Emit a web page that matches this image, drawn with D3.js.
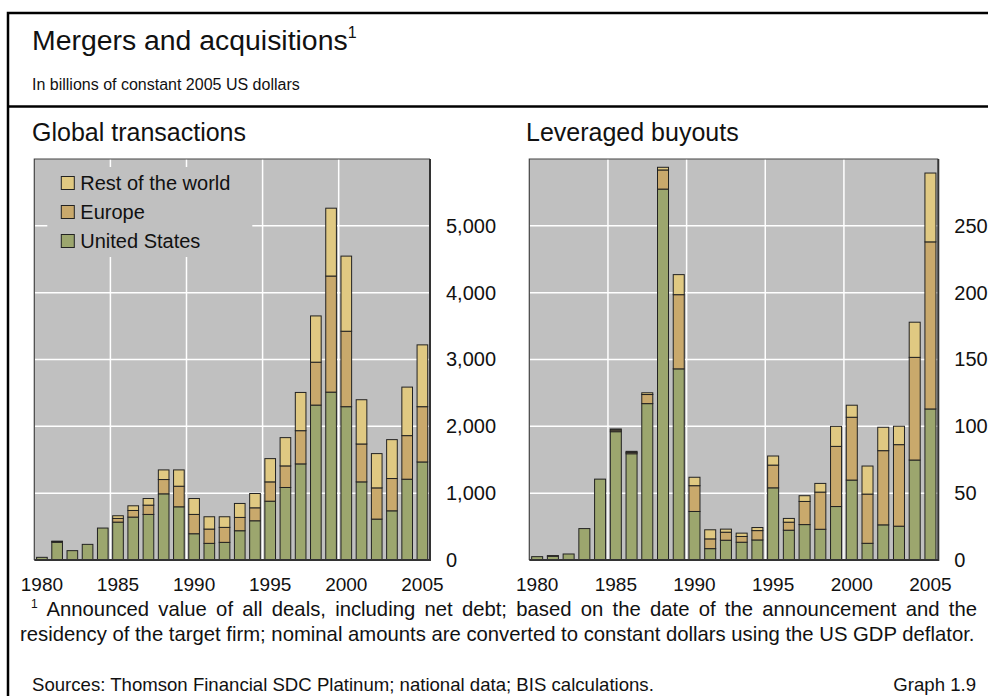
<!DOCTYPE html>
<html>
<head>
<meta charset="utf-8">
<script src="https://cdn.jsdelivr.net/npm/d3@7"></script>
<style>
  body { margin: 0; background: #fff; }
  svg { display: block; font-family: "Liberation Sans", Arial, sans-serif; }
</style>
</head>
<body>
<svg width="988" height="696"></svg>
<script>
// categories
const years = [1980, 1981, 1982, 1983, 1984, 1985, 1986, 1987, 1988, 1989, 1990, 1991, 1992,
               1993, 1994, 1995, 1996, 1997, 1998, 1999, 2000, 2001, 2002, 2003, 2004, 2005]
const yearLabels = [1980, 1985, 1990, 1995, 2000, 2005]
const gridYears = [1985, 1990, 1995, 2000]
const seriesNames = ['United States', 'Europe', 'Rest of the world']

// global transactions, billions of 2005 USD
const globalUS = [40, 265, 140, 234, 478, 567, 642, 682, 990, 796, 393, 249, 264,
                  438, 587, 880, 1085, 1438, 2318, 2512, 2294, 1169, 612, 736, 1209, 1467]
const globalEurope = [0, 12, 0, 0, 0, 55, 99, 139, 214, 308, 289, 214, 224,
                      199, 194, 289, 323, 497, 642, 1737, 1129, 567, 467, 483, 652, 827]
const globalRest = [0, 5, 0, 0, 0, 40, 70, 99, 144, 244, 238, 184, 159,
                    209, 214, 348, 423, 572, 692, 1015, 1124, 662, 513, 582, 726, 925]
const globalTicks = [0, 1000, 2000, 3000, 4000, 5000]

// leveraged buyouts, billions of 2005 USD
const lboUS = [2.5, 2.8, 4.5, 23.5, 60.5, 96, 79.5, 117, 277.5, 143, 36.3, 8.5, 14.8,
               13.3, 15, 54, 22.3, 26.5, 23, 40, 59.8, 12.5, 26.3, 25.3, 74.8, 113]
const lboEurope = [0, 0.5, 0, 0, 0, 1.2, 1, 6.8, 14.3, 55.5, 19.3, 7.3, 6,
                   4.3, 7, 17, 6, 17.3, 27.8, 45, 47, 36.8, 55.5, 61, 76.8, 125]
const lboRest = [0, 0, 0, 0, 0, 0.8, 0.8, 1.3, 2, 15, 6.3, 6.8, 2.3,
                 2.5, 2.3, 6.8, 2.8, 4.3, 6.5, 15, 9, 21, 17.5, 13.8, 26.3, 51.5]
const lboTicks = [0, 50, 100, 150, 200, 250]

const colors = ['#9ca66e', '#c9a96c', '#e0c982']
const plotBg = '#c0c0c0'

const svg = d3.select('svg')
const width = +svg.attr('width')

const plotTop = 159
const plotBottom = 560

function makeTable(us, eu, rest) {
  return years.map((y, i) => ({year: y, us: us[i], eu: eu[i], rest: rest[i]}))
}

function drawPanel(cfg) {
  const g = svg.append('g')
  const x = d3.scaleBand()
    .domain(years)
    .range([cfg.left, cfg.right])
    .paddingInner(0.3)
    .paddingOuter(0.15)
  const y = d3.scaleLinear()
    .domain([0, cfg.max])
    .range([plotBottom, plotTop])

  g.append('text')
    .attr('x', cfg.titleX)
    .attr('y', 141)
    .attr('font-size', 25)
    .attr('fill', '#111')
    .text(cfg.title)

  g.append('rect')
    .attr('x', cfg.left)
    .attr('y', plotTop)
    .attr('width', cfg.right - cfg.left)
    .attr('height', plotBottom - plotTop)
    .attr('fill', plotBg)

  // white grid
  g.selectAll('.hgrid')
    .data(cfg.ticks.filter(d => d > 0))
    .join('line')
    .attr('class', 'hgrid')
    .attr('x1', cfg.left)
    .attr('x2', cfg.right)
    .attr('y1', d => y(d))
    .attr('y2', d => y(d))
    .attr('stroke', '#fff')
    .attr('stroke-width', 1.5)

  const half = x.step() * x.paddingInner() / 2
  g.selectAll('.vgrid')
    .data(gridYears)
    .join('line')
    .attr('class', 'vgrid')
    .attr('x1', d => x(d) - half)
    .attr('x2', d => x(d) - half)
    .attr('y1', plotTop)
    .attr('y2', plotBottom)
    .attr('stroke', '#fff')
    .attr('stroke-width', 1.5)

  if (cfg.legend) {
    g.append('rect')
      .attr('x', cfg.left + 13)
      .attr('y', 167)
      .attr('width', 205)
      .attr('height', 90)
      .attr('fill', plotBg)
    const items = g.selectAll('.legend')
      .data(seriesNames.map((n, i) => ({name: n, color: colors[i]})).reverse())
      .join('g')
      .attr('class', 'legend')
      .attr('transform', (_, i) => `translate(${cfg.left + 27}, ${183 + i * 29})`)
    items.append('rect')
      .attr('x', 0)
      .attr('y', -6.5)
      .attr('width', 13)
      .attr('height', 13)
      .attr('fill', d => d.color)
      .attr('stroke', '#222')
      .attr('stroke-width', 1)
    items.append('text')
      .attr('x', 19)
      .attr('dy', '0.36em')
      .attr('font-size', 20)
      .attr('fill', '#111')
      .text(d => d.name)
  }

  const stack = d3.stack().keys(['us', 'eu', 'rest'])
  const layers = stack(cfg.table)

  g.selectAll('.layer')
    .data(layers)
    .join('g')
    .attr('class', 'layer')
    .attr('fill', (_, i) => colors[i])
    .selectAll('rect')
    .data(d => d.filter(p => p[1] - p[0] > 0))
    .join('rect')
    .attr('x', d => x(d.data.year))
    .attr('width', x.bandwidth())
    .attr('y', d => y(d[1]))
    .attr('height', d => y(d[0]) - y(d[1]))
    .attr('stroke', '#222')
    .attr('stroke-width', 1)

  // plot frame: thin top/left, heavier right/bottom
  g.append('path')
    .attr('d', `M${cfg.left},${plotBottom}V${plotTop}H${cfg.right}`)
    .attr('fill', 'none')
    .attr('stroke', '#444')
    .attr('stroke-width', 1.2)
  g.append('path')
    .attr('d', `M${cfg.left},${plotBottom}H${cfg.right}V${plotTop}`)
    .attr('fill', 'none')
    .attr('stroke', '#333')
    .attr('stroke-width', 2)

  const yAxis = g.append('g')
    .attr('transform', `translate(${cfg.right}, 0)`)
    .call(d3.axisRight(y).tickValues(cfg.ticks).tickSize(0).tickPadding(16)
      .tickFormat(cfg.format))
  yAxis.select('.domain').remove()
  yAxis.selectAll('text').attr('font-size', 20).attr('fill', '#111')

  const xAxis = g.append('g')
    .attr('transform', `translate(0, ${plotBottom})`)
    .call(d3.axisBottom(x).tickValues(yearLabels).tickSize(0).tickPadding(18))
  xAxis.select('.domain').remove()
  xAxis.selectAll('text').attr('font-size', 19).attr('fill', '#111')
}

// outer frame and header
svg.append('rect')
  .attr('x', 8)
  .attr('y', 13)
  .attr('width', width)
  .attr('height', 700)
  .attr('fill', 'none')
  .attr('stroke', '#000')
  .attr('stroke-width', 2.5)

svg.append('line')
  .attr('x1', 8)
  .attr('x2', width)
  .attr('y1', 106.5)
  .attr('y2', 106.5)
  .attr('stroke', '#000')
  .attr('stroke-width', 2.5)

const title = svg.append('text')
  .attr('x', 32)
  .attr('y', 50)
  .attr('font-size', 28.4)
  .attr('fill', '#111')
title.append('tspan').text('Mergers and acquisitions')
title.append('tspan').attr('font-size', 16).attr('dy', -12).text('1')

svg.append('text')
  .attr('x', 32)
  .attr('y', 90)
  .attr('font-size', 16)
  .attr('fill', '#111')
  .text('In billions of constant 2005 US dollars')

drawPanel({
  left: 34.3, right: 430, titleX: 32, title: 'Global transactions',
  max: 6000, ticks: globalTicks, format: d3.format(','),
  table: makeTable(globalUS, globalEurope, globalRest), legend: true
})

drawPanel({
  left: 529.3, right: 938.3, titleX: 526, title: 'Leveraged buyouts',
  max: 300, ticks: lboTicks, format: d3.format('d'),
  table: makeTable(lboUS, lboEurope, lboRest), legend: false
})

// footnote, first line justified
svg.append('text')
  .attr('x', 31)
  .attr('y', 608)
  .attr('font-size', 12)
  .attr('fill', '#111')
  .text('1')

const line1 = svg.append('text')
  .attr('x', 46.5)
  .attr('y', 616)
  .attr('font-size', 20.3)
  .attr('fill', '#111')
  .text('Announced value of all deals, including net debt; based on the date of the announcement and the')
const gaps = line1.text().split(' ').length - 1
const natural = line1.node().getComputedTextLength()
line1.attr('word-spacing', (977 - 46.5 - natural) / gaps)

svg.append('text')
  .attr('x', 20)
  .attr('y', 641)
  .attr('font-size', 20.3)
  .attr('fill', '#111')
  .text('residency of the target firm; nominal amounts are converted to constant dollars using the US GDP deflator.')

svg.append('text')
  .attr('x', 32)
  .attr('y', 691)
  .attr('font-size', 18.6)
  .attr('fill', '#111')
  .text('Sources: Thomson Financial SDC Platinum; national data; BIS calculations.')

svg.append('text')
  .attr('x', 976)
  .attr('y', 691)
  .attr('font-size', 18.6)
  .attr('text-anchor', 'end')
  .attr('fill', '#111')
  .text('Graph 1.9')
</script>
</body>
</html>
